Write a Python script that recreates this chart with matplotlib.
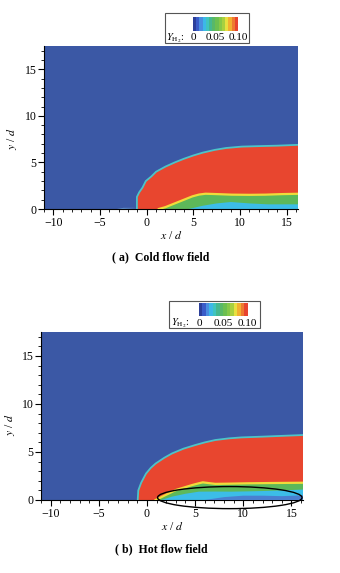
import numpy as np
import matplotlib
matplotlib.use("Agg")
import matplotlib.pyplot as plt
from matplotlib.colors import ListedColormap
from matplotlib.patches import Ellipse, Rectangle

plt.rcParams['font.family'] = ['Liberation Serif', 'DejaVu Serif']
plt.rcParams['mathtext.fontset'] = 'stix'

# ---------------- data (x/d, y/d) ----------------
# cold flow field
cold_upper_x = [-1.05, -1.05, -0.8, -0.45, -0.1, 0.5, 1.0, 2.0, 3.0, 4.0, 5.0, 6.0, 7.3, 8.5, 10.2, 12.0, 14.0, 16.5]
cold_upper_y = [0.0, 1.3, 1.8, 2.3, 3.0, 3.5, 4.0, 4.55, 5.0, 5.4, 5.75, 6.05, 6.35, 6.55, 6.7, 6.75, 6.8, 6.9]
cold_lower_x = [1.3, 2.0, 3.1, 4.0, 4.9, 5.6, 6.3, 7.5, 9.1, 11.0, 12.7, 14.5, 16.5]
cold_lower_y = [0.0, 0.2, 0.64, 1.0, 1.36, 1.55, 1.64, 1.6, 1.54, 1.52, 1.54, 1.6, 1.64]
cold_cyan_x = [4.5, 6.0, 7.5, 9.0, 11.0, 13.0, 16.5]
cold_cyan_y = [0.0, 0.35, 0.6, 0.75, 0.6, 0.5, 0.5]
cold_strip_x = [-3.2, -2.5, -1.5, -1.05]
cold_strip_y = [0.0, 0.12, 0.12, 0.1]

# hot flow field
hot_upper_x = [-0.96, -0.9, -0.6, -0.1, 0.4, 0.9, 1.8, 2.6, 3.8, 5.0, 6.0, 7.1, 8.5, 9.8, 12.0, 14.0, 16.5]
hot_upper_y = [0.0, 1.0, 1.8, 2.75, 3.35, 3.8, 4.4, 4.85, 5.35, 5.72, 6.0, 6.25, 6.42, 6.52, 6.6, 6.68, 6.78]
hot_lower_x = [0.9, 2.0, 3.0, 4.0, 4.7, 5.3, 5.8, 6.5, 7.1, 8.5, 10.5, 13.0, 16.5]
hot_lower_y = [0.0, 0.55, 1.04, 1.35, 1.56, 1.72, 1.84, 1.75, 1.68, 1.7, 1.74, 1.77, 1.8]
hot_cyan_x = [1.5, 2.6, 4.0, 5.4, 7.0, 8.8, 10.5, 12.2, 14.0, 16.5]
hot_cyan_y = [0.0, 0.35, 0.65, 0.87, 0.88, 0.87, 0.9, 0.94, 1.0, 1.1]
hot_base_x = [6.0, 8.0, 10.0, 12.0, 14.0, 16.5]
hot_base_y = [0.0, 0.3, 0.45, 0.45, 0.4, 0.5]

# legend colour bands (Y_H2 from 0 to 0.10)
band_colors = ['#2c3f9a', '#3a5cc8', '#4a8ee0', '#3cb8e8', '#3fc4c0', '#45b890', '#58b868',
               '#6cbf50', '#86c848', '#a8d040', '#e8e040', '#f2b030', '#ee7a30', '#e8442f']
cbar_ticks = [0, 0.05, 0.10]
cbar_ticklabels = ['0', '0.05', '0.10']

x_ticks = [-10, -5, 0, 5, 10, 15]
y_ticks = [0, 5, 10, 15]

BLUE = '#3b58a5'
RED = '#e8462f'
YELLOW = '#f0dc3a'
GREEN = '#5db85a'
CYAN = '#3cbde8'
EDGE = '#4cc4c8'


def draw_field(ax, ux, uy, lx, ly, cx, cy, extra=None):
    ax.set_facecolor(BLUE)
    # red core: upper boundary out, lower boundary back
    px = list(ux) + list(lx[::-1])
    py = list(uy) + list(ly[::-1])
    ax.fill(px, py, color=RED, lw=0, zorder=2)
    ax.plot(ux, uy, color=EDGE, lw=1.3, zorder=3, solid_capstyle='butt')
    # green layer under the red core
    gx = list(lx) + [lx[-1], cx[0]]
    gy = list(ly) + [0, 0]
    ax.fill(gx, gy, color=GREEN, lw=0, zorder=2)
    ax.plot(lx, ly, color=YELLOW, lw=1.6, zorder=3)
    # cyan pocket near the wall
    ax.fill(list(cx) + [cx[-1]], list(cy) + [0], color=CYAN, lw=0, zorder=2.5)
    if extra is not None:
        ex, ey, ec = extra
        ax.fill(list(ex) + [ex[-1]], list(ey) + [0], color=ec, lw=0, zorder=2.6)


def style_axes(ax):
    ax.set_xlim(-11, 16.2)
    ax.set_ylim(0, 17.5)
    ax.spines['top'].set_visible(False)
    ax.spines['right'].set_visible(False)
    ax.set_xticks(x_ticks)
    ax.set_yticks(y_ticks)
    ax.set_xticks(np.arange(-11, 17, 1), minor=True)
    ax.set_yticks(np.arange(0, 18, 1), minor=True)
    ax.set_xticklabels([str(v).replace('-', '\u2212') for v in x_ticks])
    ax.tick_params(which='major', direction='out', length=4, width=0.8, labelsize=8.5, pad=1.5)
    ax.tick_params(which='minor', direction='out', length=2.5, width=0.6)
    ax.set_xlabel('$x$ / $d$', fontsize=8.5, labelpad=1)
    ax.set_ylabel('$y$ / $d$', fontsize=8.5, labelpad=2)


def legend_box(fig, box, bar, lab_y, lab_x):
    # box: (x0, y0, x1, y1) in pixels from top-left
    W, H = 340, 573
    frame = Rectangle((box[0] / W, 1 - box[3] / H), (box[2] - box[0]) / W, (box[3] - box[1]) / H,
                      transform=fig.transFigure, fc='white', ec='#555555', lw=0.8, zorder=5)
    fig.patches.append(frame)
    cax = fig.add_axes([bar[0] / W, 1 - bar[3] / H, (bar[2] - bar[0]) / W, (bar[3] - bar[1]) / H])
    cax.set_zorder(6)
    cmap = ListedColormap(band_colors)
    cax.imshow(np.linspace(0, 0.10, len(band_colors))[None, :], cmap=cmap, aspect='auto',
               extent=[0, 0.10, 0, 1])
    cax.set_axis_off()
    fig.text(lab_x / W, 1 - lab_y / H, '$Y_{\\mathrm{H_2}}$:', fontsize=7.5, ha='left', va='center', zorder=7)
    for t, lab in zip(cbar_ticks, cbar_ticklabels):
        xx = bar[0] + (bar[2] - bar[0]) * t / 0.10
        fig.text(xx / W, 1 - lab_y / H, lab, fontsize=8, ha='center', va='center', zorder=7)


fig = plt.figure(figsize=(3.4, 5.73), dpi=100)

# (a) cold flow
ax1 = fig.add_axes([44 / 340, 1 - 209 / 573, 254 / 340, 163 / 573])
draw_field(ax1, cold_upper_x, cold_upper_y, cold_lower_x, cold_lower_y, cold_cyan_x, cold_cyan_y)
ax1.fill(cold_strip_x, cold_strip_y, color='#6fa8dc', lw=0, zorder=2)
style_axes(ax1)
ax1.yaxis.set_label_coords(-0.1, 0.43)
fig.text(161 / 340, 1 - 257 / 573, '( a)  Cold flow field', fontsize=8.5, fontweight='bold',
         ha='center', va='center')
legend_box(fig, (165, 13, 249, 43), (193, 17, 238, 31), 38, 166)

# (b) hot flow
ax2 = fig.add_axes([41 / 340, 1 - 500 / 573, 262 / 340, 168 / 573])
draw_field(ax2, hot_upper_x, hot_upper_y, hot_lower_x, hot_lower_y, hot_cyan_x, hot_cyan_y,
           extra=(hot_base_x, hot_base_y, '#4a7fd0'))
style_axes(ax2)
ax2.yaxis.set_label_coords(-0.09, 0.45)
ell = Ellipse((8.6, 0.25), 15.0, 2.3, fill=False, ec='black', lw=1.0, clip_on=False, zorder=8)
ax2.add_patch(ell)
fig.text(161 / 340, 1 - 549 / 573, '( b)  Hot flow field', fontsize=8.5, fontweight='bold',
         ha='center', va='center')
legend_box(fig, (169, 301, 260, 328), (199, 303, 247, 316), 323, 171)

fig.savefig('out.png', dpi=100)
